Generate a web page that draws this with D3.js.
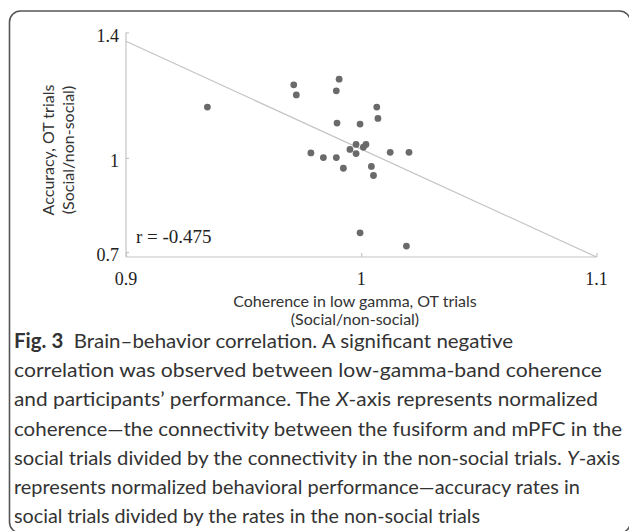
<!DOCTYPE html>
<html>
<head>
<meta charset="utf-8">
<script src="https://cdn.jsdelivr.net/npm/d3@7"></script>
<style>
  html, body { margin: 0; padding: 0; background: #fff; }
  svg { display: block; }
</style>
</head>
<body>
<script>
// coherence ratio (x) and accuracy ratio (y)
const coherence = [0.9346, 0.9713, 0.9724, 0.9906, 0.9894, 1.0066, 1.0071, 0.9897,
  0.9995, 0.9978, 1.0020, 1.0009, 0.9952, 0.9786, 0.9839, 0.9894, 0.9978, 1.0123,
  1.0203, 0.9924, 1.0043, 1.0052, 0.9995, 1.0192]
const accuracy = [1.162, 1.233, 1.201, 1.251, 1.214, 1.162, 1.126, 1.111,
  1.108, 1.043, 1.043, 1.034, 1.027, 1.016, 1.001, 1.001, 1.014, 1.018,
  1.018, 0.967, 0.973, 0.944, 0.761, 0.719]
const fitX = [0.9, 1.1]
const fitY = [1.372, 0.684]
const xTicks = [0.9, 1, 1.1]
const yTicks = [0.7, 1, 1.4]
const rLabel = 'r = -0.475'
const xTitle = ['Coherence in low gamma, OT trials', '(Social/non-social)']
const yTitle = ['Accuracy, OT trials', '(Social/non-social)']

const W = 629, H = 531
const svg = d3.select('body').append('svg')
    .attr('width', W)
    .attr('height', H)

// figure frame
svg.append('rect')
    .attr('x', 9.5).attr('y', 11)
    .attr('width', 621).attr('height', 522)
    .attr('rx', 11)
    .attr('fill', 'none')
    .attr('stroke', '#555')
    .attr('stroke-width', 1.6)

const x = d3.scaleLinear().domain([0.9, 1.1]).range([126, 596.5])
const y = d3.scaleLinear().domain([0.684, 1.4]).range([257, 32.5])

const axisCol = '#c4c4c4'

svg.append('g')
    .attr('transform', `translate(${x(0.9)},0)`)
    .call(d3.axisRight(y).tickValues(yTicks).tickSize(3).tickFormat(''))
svg.append('g')
    .attr('transform', `translate(0,${y(0.684)})`)
    .call(d3.axisTop(x).tickValues(xTicks).tickSize(4).tickFormat(''))
svg.selectAll('.tick line').attr('stroke', axisCol).attr('stroke-width', 1.2)
// plain lines instead of the outer-tick domain path
svg.selectAll('.domain').remove()
svg.append('line')
    .attr('x1', x(0.9)).attr('x2', x(0.9))
    .attr('y1', y(1.4)).attr('y2', y(0.684))
    .attr('stroke', axisCol).attr('stroke-width', 1.2)
svg.append('line')
    .attr('x1', x(0.9)).attr('x2', x(1.1))
    .attr('y1', y(0.684)).attr('y2', y(0.684))
    .attr('stroke', axisCol).attr('stroke-width', 1.2)

// tick labels
svg.selectAll('.ylab')
    .data(yTicks)
    .enter()
    .append('text')
    .attr('class', 'ylab')
    .attr('x', x(0.9) - 7)
    .attr('y', d => y(d) + 9)
    .attr('text-anchor', 'end')
    .attr('font-family', 'Liberation Serif')
    .attr('font-size', 18)
    .attr('fill', '#222')
    .text(d => d)
svg.selectAll('.xlab')
    .data(xTicks)
    .enter()
    .append('text')
    .attr('class', 'xlab')
    .attr('x', d => x(d))
    .attr('y', 285)
    .attr('text-anchor', 'middle')
    .attr('font-family', 'Liberation Serif')
    .attr('font-size', 18)
    .attr('fill', '#222')
    .text(d => d)

// regression line
svg.append('line')
    .attr('x1', x(fitX[0])).attr('y1', y(fitY[0]))
    .attr('x2', x(fitX[1])).attr('y2', y(fitY[1]))
    .attr('stroke', axisCol)
    .attr('stroke-width', 1.2)

svg.selectAll('circle')
    .data(coherence)
    .enter()
    .append('circle')
    .attr('cx', d => x(d))
    .attr('cy', (d, i) => y(accuracy[i]))
    .attr('r', 3.4)
    .attr('fill', '#6a6a6a')

svg.append('text')
    .attr('x', 136)
    .attr('y', 243)
    .attr('font-family', 'Liberation Serif')
    .attr('font-size', 19)
    .attr('fill', '#222')
    .text(rLabel)

// axis titles
svg.selectAll('.xtitle')
    .data(xTitle)
    .enter()
    .append('text')
    .attr('class', 'xtitle')
    .attr('x', 355)
    .attr('y', (d, i) => 307 + i * 18)
    .attr('text-anchor', 'middle')
    .attr('font-family', 'Lato')
    .attr('font-size', 16)
    .attr('fill', '#333')
    .text(d => d)
svg.selectAll('.ytitle')
    .data(yTitle)
    .enter()
    .append('text')
    .attr('class', 'ytitle')
    .attr('transform', (d, i) => `translate(${54 + i * 20},150) rotate(-90)`)
    .attr('text-anchor', 'middle')
    .attr('font-family', 'Lato')
    .attr('font-size', 16)
    .attr('fill', '#333')
    .text(d => d)

// caption
const caption = [
  [['Fig. 3', 'b'], ['  Brain–behavior correlation. A significant negative', '']],
  [['correlation was observed between low-gamma-band coherence', '']],
  [['and participants’ performance. The ', ''], ['X', 'i'], ['-axis represents normalized', '']],
  [['coherence—the connectivity between the fusiform and mPFC in the', '']],
  [['social trials divided by the connectivity in the non-social trials. ', ''], ['Y', 'i'], ['-axis', '']],
  [['represents normalized behavioral performance—accuracy rates in', '']],
  [['social trials divided by the rates in the non-social trials', '']]
]
const capEnd = [513, 602, 598, 622, 620, 580, 480]

const cap = svg.selectAll('.cap')
    .data(caption)
    .enter()
    .append('text')
    .attr('class', 'cap')
    .attr('x', 14)
    .attr('y', (d, i) => 348 + i * 29.2)
    .attr('font-family', 'Lato')
    .attr('font-size', 20)
    .attr('fill', '#333')
    .attr('textLength', (d, i) => capEnd[i] - 14)
    .attr('lengthAdjust', 'spacingAndGlyphs')
cap.selectAll('tspan')
    .data(d => d)
    .enter()
    .append('tspan')
    .attr('font-weight', d => d[1] == 'b' ? 'bold' : null)
    .attr('font-style', d => d[1] == 'i' ? 'italic' : null)
    .style('white-space', 'pre')
    .text(d => d[0])
</script>
</body>
</html>
